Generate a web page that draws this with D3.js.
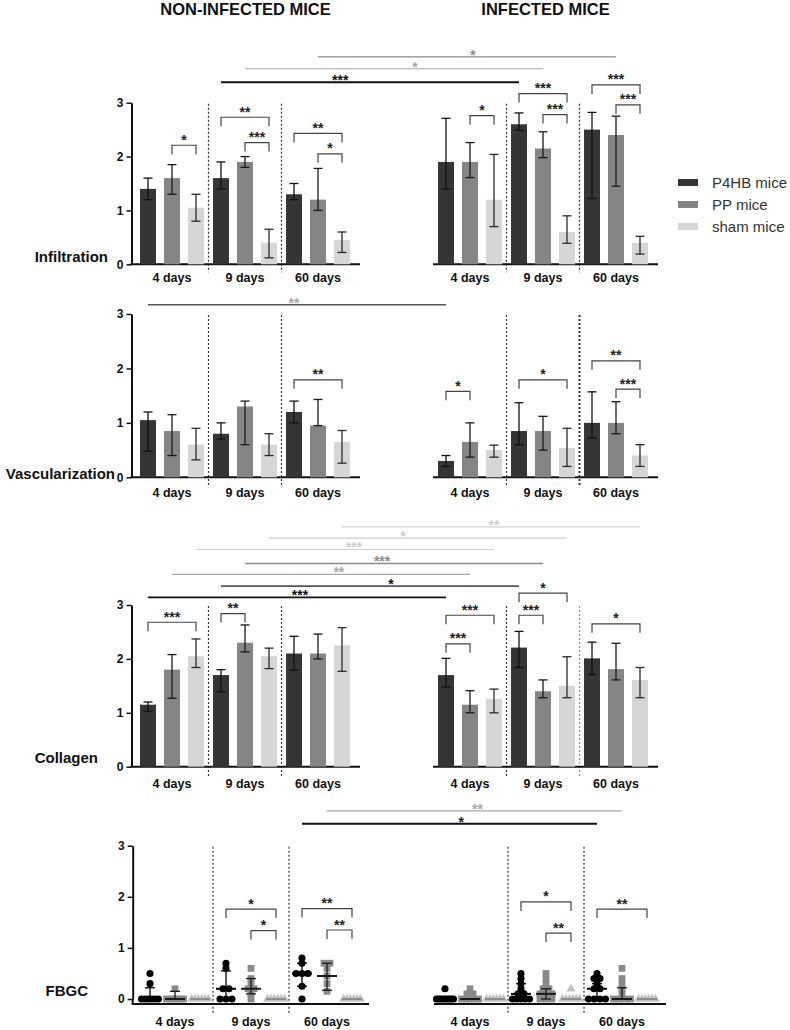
<!DOCTYPE html>
<html><head><meta charset="utf-8">
<script src="https://cdn.jsdelivr.net/npm/d3@7/dist/d3.min.js"></script>
<style>html,body{margin:0;padding:0;background:#fff}svg{display:block}</style>
</head><body>
<svg id="chart" width="790" height="1030"></svg>
<script>
// ================= DATA =================
const days = ["4 days", "9 days", "60 days"];
const groups = ["P4HB mice", "PP mice", "sham mice"];
const yTicks = [0, 1, 2, 3];
const panelTitles = ["NON-INFECTED MICE", "INFECTED MICE"];
const rowLabels = ["Infiltration", "Vascularization", "Collagen", "FBGC"];

// bar rows: [day][group]
const infNonMean = [[1.4, 1.6, 1.05], [1.6, 1.9, 0.4], [1.3, 1.2, 0.45]];
const infNonLo   = [[1.2, 1.3, 0.8], [1.4, 1.8, 0.12], [1.2, 1.0, 0.22]];
const infNonHi   = [[1.6, 1.85, 1.3], [1.9, 2.0, 0.65], [1.5, 1.78, 0.6]];
const infInfMean = [[1.9, 1.9, 1.2], [2.6, 2.15, 0.6], [2.5, 2.4, 0.4]];
const infInfLo   = [[1.4, 1.61, 0.7], [2.49, 1.98, 0.39], [1.22, 1.45, 0.19]];
const infInfHi   = [[2.71, 2.26, 2.04], [2.81, 2.46, 0.9], [2.82, 2.75, 0.52]];

const vasNonMean = [[1.05, 0.85, 0.6], [0.8, 1.3, 0.6], [1.2, 0.95, 0.65]];
const vasNonLo   = [[0.48, 0.4, 0.32], [0.7, 0.6, 0.4], [1.0, 0.95, 0.26]];
const vasNonHi   = [[1.2, 1.15, 0.9], [1.0, 1.4, 0.8], [1.4, 1.43, 0.86]];
const vasInfMean = [[0.3, 0.65, 0.5], [0.85, 0.85, 0.54], [1.0, 1.0, 0.4]];
const vasInfLo   = [[0.2, 0.37, 0.37], [0.6, 0.5, 0.2], [0.72, 0.8, 0.2]];
const vasInfHi   = [[0.4, 1.0, 0.59], [1.37, 1.12, 0.9], [1.57, 1.39, 0.6]];

const colNonMean = [[1.15, 1.8, 2.05], [1.7, 2.3, 2.05], [2.1, 2.1, 2.25]];
const colNonLo   = [[1.03, 1.27, 1.84], [1.39, 2.13, 1.82], [1.79, 2.0, 1.77]];
const colNonHi   = [[1.2, 2.08, 2.37], [1.8, 2.63, 2.2], [2.42, 2.46, 2.58]];
const colInfMean = [[1.7, 1.15, 1.26], [2.21, 1.4, 1.5], [2.01, 1.81, 1.61]];
const colInfLo   = [[1.48, 1.0, 1.0], [1.84, 1.28, 1.28], [1.71, 1.61, 1.28]];
const colInfHi   = [[2.01, 1.41, 1.44], [2.51, 1.61, 2.04], [2.31, 2.29, 1.84]];

// FBGC scatter: individual scores [day][group][...]
const fbgcNonPts = [
  [[0.5, 0.3, 0, 0, 0, 0, 0, 0], [0.2, 0, 0, 0, 0, 0], [0, 0, 0, 0, 0, 0]],
  [[0.7, 0.6, 0.2, 0.2, 0, 0, 0], [0.6, 0.4, 0.3, 0.2, 0.2, 0.1, 0], [0, 0, 0, 0, 0, 0]],
  [[0.8, 0.7, 0.5, 0.5, 0.5, 0.25, 0], [0.7, 0.7, 0.6, 0.45, 0.3, 0.15], [0, 0, 0, 0, 0, 0]]
];
const fbgcNonMed = [[0, 0, 0], [0.2, 0.2, 0], [0.5, 0.45, 0]];
const fbgcNonLo  = [[0, 0, 0], [0, 0.1, 0], [0.25, 0.17, 0]];
const fbgcNonHi  = [[0.22, 0.15, 0], [0.55, 0.4, 0], [0.7, 0.7, 0]];
const fbgcInfPts = [
  [[0.2, 0, 0, 0, 0, 0, 0, 0, 0, 0], [0.2, 0.1, 0.1, 0, 0, 0, 0, 0], [0, 0, 0, 0, 0, 0]],
  [[0.5, 0.4, 0.3, 0.2, 0.1, 0.1, 0, 0, 0, 0, 0], [0.5, 0.4, 0.3, 0.2, 0.2, 0.1, 0.1, 0.1, 0, 0, 0], [0.2, 0, 0, 0, 0, 0, 0]],
  [[0.5, 0.4, 0.4, 0.3, 0.2, 0.2, 0, 0, 0, 0], [0.6, 0.4, 0.3, 0.2, 0.1, 0, 0, 0, 0], [0, 0, 0, 0, 0, 0]]
];
const fbgcInfMed = [[0, 0, 0], [0.1, 0.1, 0], [0.2, 0, 0]];
const fbgcInfLo  = [[0, 0, 0], [0, 0, 0], [0, 0, 0]];
const fbgcInfHi  = [[0, 0, 0], [0.3, 0.2, 0], [0.3, 0.22, 0]];

// within-panel brackets: [day, groupA, groupB, level, label]
const infNonBr = [[0, 1, 2, 2.21, "*"], [1, 0, 2, 2.73, "**"], [1, 1, 2, 2.26, "***"], [2, 0, 2, 2.43, "**"], [2, 1, 2, 2.05, "*"]];
const infInfBr = [[0, 1, 2, 2.76, "*"], [1, 0, 2, 3.17, "***"], [1, 1, 2, 2.78, "***"], [2, 0, 2, 3.33, "***"], [2, 1, 2, 2.96, "***"]];
const vasNonBr = [[2, 0, 2, 1.79, "**"]];
const vasInfBr = [[0, 0, 1, 1.58, "*"], [1, 0, 2, 1.79, "*"], [2, 0, 2, 2.14, "**"], [2, 1, 2, 1.62, "***"]];
const colNonBr = [[0, 0, 2, 2.68, "***"], [1, 0, 1, 2.84, "**"]];
const colInfBr = [[0, 0, 2, 2.81, "***"], [0, 0, 1, 2.28, "***"], [1, 0, 1, 2.81, "***"], [1, 0, 2, 3.22, "*"], [2, 0, 2, 2.65, "*"]];
const fbgcNonBr = [[1, 0, 2, 1.76, "*"], [1, 1, 2, 1.34, "*"], [2, 0, 2, 1.77, "**"], [2, 1, 2, 1.35, "**"]];
const fbgcInfBr = [[1, 0, 2, 1.90, "*"], [1, 1, 2, 1.29, "**"], [2, 0, 2, 1.76, "**"]];

// non-infected vs infected comparisons: [day, group, level, label, labelFraction, lineTone, labelTone]
const infLong = [[2, 1, 3.85, "*", 0.52, "mid", "mid"], [1, 1, 3.63, "*", 0.57, "light", "light"], [1, 0, 3.38, "***", 0.40, "black", "black"]];
const vasLong = [[0, 0, 3.17, "**", 0.49, "dark", "light"]];
const colLong = [
  [2, 2, 4.45, "**", 0.51, "pale", "pale"],
  [1, 2, 4.24, "*", 0.45, "pale", "pale"],
  [0, 2, 4.03, "***", 0.53, "pale", "pale"],
  [1, 1, 3.77, "***", 0.46, "mid", "mid"],
  [0, 1, 3.57, "**", 0.56, "light", "light"],
  [1, 0, 3.35, "*", 0.57, "dark", "black"],
  [0, 0, 3.14, "***", 0.51, "black", "black"]
];
const fbgcLong = [[2, 1, 3.68, "**", 0.51, "light", "light"], [2, 0, 3.43, "*", 0.54, "black", "black"]];

// ================= LAYOUT / STYLE =================
const FONT = "'Liberation Sans', Arial, Helvetica, sans-serif";
const barColors = ["#353535", "#858585", "#d6d6d6"];
const errColors = ["#111", "#1a1a1a", "#2a2a2a"];
const tones = {black: "#111", dark: "#555", mid: "#8c8c8c", light: "#a9a9a9", pale: "#cfcfcf"};
const toneW = {black: 1.8, dark: 1.6, mid: 1.3, light: 1.2, pale: 1.1};
const rowLayout = [
  {y0: 264.3, y3: 102.7, labelX: 108, labelY: 262, catDy: 18, drop: 0, sepDrop: 8},
  {y0: 477.3, y3: 314, labelX: 115, labelY: 479, catDy: 20, drop: 0, sepDrop: 9},
  {y0: 766.7, y3: 605, labelX: 98, labelY: 763, catDy: 21, drop: 0, sepDrop: 10},
  {y0: 999, y3: 845.7, labelX: 88, labelY: 996, catDy: 26.5, drop: 5, sepDrop: 14}
];
const barSides = [{axisX: 131.5, axisEnd: 360, start: 140}, {axisX: 433, axisEnd: 658, start: 438}];
const dotSides = [{axisX: 132.7, axisEnd: 369, start: 140}, {axisX: 434, axisEnd: 666, start: 435}];

const svg = d3.select("#chart").attr("font-family", FONT);

function barX(start) {
  const gx = d3.scaleBand().domain(days).range([start, start + 210]).paddingInner(9 / 73).paddingOuter(0);
  const bx = d3.scaleBand().domain(groups).range([0, gx.bandwidth()]).paddingInner(1 / 3).paddingOuter(0);
  return {
    gx, bx, w: bx.bandwidth(),
    x: (d, g) => gx(days[d]) + bx(groups[g]),
    cx: (d, g) => gx(days[d]) + bx(groups[g]) + bx.bandwidth() / 2,
    sep: d => gx(days[d]) - (gx.step() - gx.bandwidth()) / 2
  };
}
function dotX(start) {
  const gx = d3.scaleBand().domain(days).range([start, start + 222]).paddingInner(6 / 76).paddingOuter(0);
  const px = d3.scalePoint().domain(groups).range([10, 60]);
  return {
    gx,
    cx: (d, g) => gx(days[d]) + px(groups[g]),
    sep: d => gx(days[d]) - (gx.step() - gx.bandwidth()) / 2
  };
}

function frame(g, X, side, L, y, isLeft, sepStyle) {
  [1, 2].forEach((d, i) => {
    const st = (sepStyle && sepStyle[i]) || {};
    g.append("line").attr("x1", X.sep(d)).attr("x2", X.sep(d))
      .attr("y1", y(3) + 1).attr("y2", L.y0 + L.sepDrop)
      .attr("stroke", st.c || "#333").attr("stroke-width", st.w || 1.2).attr("stroke-dasharray", "2,2");
  });
  const axY = L.y0 + L.drop;
  g.append("line").attr("x1", side.axisX - (isLeft ? 1 : 0)).attr("x2", side.axisEnd)
    .attr("y1", axY).attr("y2", axY).attr("stroke", "#111").attr("stroke-width", 2);
  const xa = g.append("g").attr("transform", `translate(0,${L.y0})`)
    .call(d3.axisBottom(X.gx).tickSize(0));
  xa.select(".domain").remove();
  xa.selectAll("text").attr("y", L.catDy).attr("dy", 0)
    .attr("font-size", 12.5).attr("font-weight", "bold").attr("fill", "#111").attr("font-family", FONT);
  if (isLeft) {
    const ya = g.append("g").attr("transform", `translate(${side.axisX},0)`)
      .call(d3.axisLeft(y).tickValues(yTicks).tickSize(5).tickSizeOuter(0).tickFormat(d3.format("d")));
    ya.select(".domain").attr("stroke", "#111").attr("stroke-width", 2);
    ya.selectAll(".tick line").attr("stroke", "#111").attr("stroke-width", 1.5);
    ya.selectAll("text").attr("font-size", 12).attr("font-weight", "bold").attr("fill", "#111").attr("font-family", FONT);
    if (L.drop) {
      g.append("line").attr("x1", side.axisX).attr("x2", side.axisX).attr("y1", y(0)).attr("y2", L.y0 + L.drop)
        .attr("stroke", "#111").attr("stroke-width", 2);
    }
  }
}

function brackets(g, X, y, list) {
  list.forEach(([d, a, b, lvl, lab]) => {
    const x1 = X.cx(d, a), x2 = X.cx(d, b), yb = y(lvl);
    g.append("path").attr("d", `M${x1},${yb + 9}V${yb}H${x2}V${yb + 9}`)
      .attr("fill", "none").attr("stroke", "#444").attr("stroke-width", 1.2);
    g.append("text").attr("x", (x1 + x2) / 2).attr("y", yb - 0.5).attr("text-anchor", "middle")
      .attr("font-size", 14).attr("font-weight", "bold").attr("fill", "#222").text(lab);
  });
}

function errBar(g, cx, y, lo, hi, color, half) {
  g.append("line").attr("x1", cx).attr("x2", cx).attr("y1", y(lo)).attr("y2", y(hi))
    .attr("stroke", color).attr("stroke-width", 1.3);
  [lo, hi].forEach(v => g.append("line").attr("x1", cx - half).attr("x2", cx + half)
    .attr("y1", y(v)).attr("y2", y(v)).attr("stroke", color).attr("stroke-width", 1.3));
}

function barPanel(rowIdx, sideIdx, mean, lo, hi, brList, sepStyle) {
  const L = rowLayout[rowIdx], side = barSides[sideIdx];
  const X = barX(side.start);
  const y = d3.scaleLinear().domain([0, 3]).range([L.y0, L.y3]);
  const g = svg.append("g");
  frame(g, X, side, L, y, sideIdx === 0, sepStyle);
  days.forEach((day, d) => groups.forEach((gr, k) => {
    g.append("rect").attr("x", X.x(d, k)).attr("width", X.w)
      .attr("y", y(mean[d][k])).attr("height", y(0) - y(mean[d][k]))
      .attr("fill", barColors[k]);
  }));
  days.forEach((day, d) => groups.forEach((gr, k) => {
    errBar(g, X.cx(d, k), y, lo[d][k], hi[d][k], errColors[k], 4.5);
  }));
  brackets(g, X, y, brList);
  return {X, y};
}

function spread(vals, maxW, maxStep) {
  const counts = d3.rollup(vals, v => v.length, v => v);
  const seen = new Map();
  return vals.map(v => {
    const n = counts.get(v), k = seen.get(v) || 0;
    seen.set(v, k + 1);
    const st = n > 1 ? Math.min(maxStep, maxW / (n - 1)) : 0;
    return {v, dx: (k - (n - 1) / 2) * st};
  });
}

function dotPanel(rowIdx, sideIdx, pts, med, lo, hi, brList) {
  const L = rowLayout[rowIdx], side = dotSides[sideIdx];
  const X = dotX(side.start);
  const y = d3.scaleLinear().domain([0, 3]).range([L.y0, L.y3]);
  const g = svg.append("g");
  frame(g, X, side, L, y, sideIdx === 0, null);
  const sym = [d3.symbolCircle, d3.symbolSquare, d3.symbolTriangle];
  const symSize = [40, 46, 36];
  const fills = ["#000", "#8a8a8a", "#c4c4c4"];
  const medCol = ["#000", "#1a1a1a", "#777"];
  days.forEach((day, d) => groups.forEach((gr, k) => {
    const cx = X.cx(d, k);
    spread(pts[d][k], 17, 6).forEach(p => {
      g.append("path").attr("d", d3.symbol().type(sym[k]).size(symSize[k])())
        .attr("transform", `translate(${cx + p.dx},${y(p.v)})`).attr("fill", fills[k]);
    });
  }));
  days.forEach((day, d) => groups.forEach((gr, k) => {
    const cx = X.cx(d, k);
    if (hi[d][k] > lo[d][k]) errBar(g, cx, y, lo[d][k], hi[d][k], medCol[k], 5);
    g.append("line").attr("x1", cx - 10).attr("x2", cx + 10).attr("y1", y(med[d][k])).attr("y2", y(med[d][k]))
      .attr("stroke", medCol[k]).attr("stroke-width", k === 2 ? 1.4 : 2);
  }));
  brackets(g, X, y, brList);
  return {X, y};
}

function longLines(rowIdx, A, B, list) {
  const y = A.y;
  const g = svg.append("g");
  list.forEach(([d, k, lvl, lab, t, lt, tt]) => {
    const x1 = A.X.cx(d, k), x2 = B.X.cx(d, k), yl = y(lvl);
    g.append("line").attr("x1", x1).attr("x2", x2).attr("y1", yl).attr("y2", yl)
      .attr("stroke", tones[lt]).attr("stroke-width", toneW[lt]);
    g.append("text").attr("x", x1 + (x2 - x1) * t).attr("y", yl + 3).attr("text-anchor", "middle")
      .attr("font-size", 14).attr("font-weight", "bold").attr("fill", tones[tt]).text(lab);
  });
}

// ================= DRAW =================
// titles
svg.append("text").attr("x", 245.5).attr("y", 15).attr("text-anchor", "middle")
  .attr("font-size", 16.5).attr("font-weight", "bold").attr("fill", "#111").text(panelTitles[0]);
svg.append("text").attr("x", 545.5).attr("y", 15).attr("text-anchor", "middle")
  .attr("font-size", 16.5).attr("font-weight", "bold").attr("fill", "#111").text(panelTitles[1]);

// row labels
rowLabels.forEach((lab, i) => {
  svg.append("text").attr("x", rowLayout[i].labelX).attr("y", rowLayout[i].labelY).attr("text-anchor", "end")
    .attr("font-size", 15).attr("font-weight", "bold").attr("fill", "#111").text(lab);
});

const iA = barPanel(0, 0, infNonMean, infNonLo, infNonHi, infNonBr);
const iB = barPanel(0, 1, infInfMean, infInfLo, infInfHi, infInfBr);
longLines(0, iA, iB, infLong);

const vA = barPanel(1, 0, vasNonMean, vasNonLo, vasNonHi, vasNonBr);
const vB = barPanel(1, 1, vasInfMean, vasInfLo, vasInfHi, vasInfBr, [null, {c: "#222", w: 1.8}]);
longLines(1, vA, vB, vasLong);

const cA = barPanel(2, 0, colNonMean, colNonLo, colNonHi, colNonBr);
const cB = barPanel(2, 1, colInfMean, colInfLo, colInfHi, colInfBr, [null, {c: "#999", w: 1.2}]);
longLines(2, cA, cB, colLong);

const fA = dotPanel(3, 0, fbgcNonPts, fbgcNonMed, fbgcNonLo, fbgcNonHi, fbgcNonBr);
const fB = dotPanel(3, 1, fbgcInfPts, fbgcInfMed, fbgcInfLo, fbgcInfHi, fbgcInfBr);
longLines(3, fA, fB, fbgcLong);

// legend
const leg = svg.append("g").attr("transform", "translate(678,0)");
const legY = d3.scalePoint().domain(groups).range([182.5, 226.5]);
groups.forEach((gr, k) => {
  leg.append("rect").attr("x", 0).attr("y", legY(gr) - 3.5).attr("width", 20).attr("height", 7).attr("fill", barColors[k]);
  leg.append("text").attr("x", 34).attr("y", legY(gr) + 5.5).attr("font-size", 15).attr("fill", "#333").text(gr);
});
</script>
</body></html>
